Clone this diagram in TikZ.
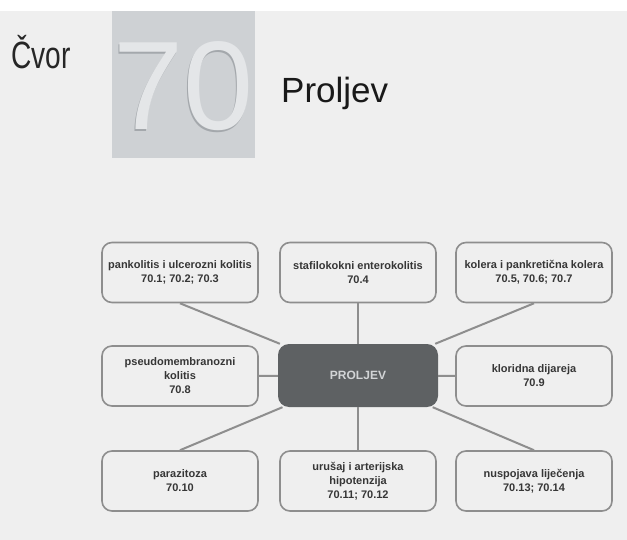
\documentclass[tikz,border=0pt]{standalone}
\usepackage{fontspec}
\setmainfont{Liberation Sans}
\usetikzlibrary{positioning}
\definecolor{bg}{HTML}{EFEFEF}
\definecolor{tilebg}{HTML}{CED1D4}
\definecolor{digit}{HTML}{E4E6E8}
\definecolor{digitsh}{HTML}{A4A8AC}
\definecolor{edge}{HTML}{8E8E8E}
\definecolor{txt}{HTML}{363636}
\definecolor{hub}{HTML}{5E6163}
\definecolor{hubtxt}{HTML}{D2D4D6}
\tikzset{
  leaf/.style={draw=edge, line width=1.6pt, fill=bg, rounded corners=10pt,
    minimum width=156pt, minimum height=60pt, inner sep=0pt, align=center,
    text=txt, font=\fontsize{11}{14}\selectfont\bfseries},
  hubbox/.style={fill=hub, rounded corners=11pt, minimum width=160pt,
    minimum height=63pt, inner sep=0pt, text=hubtxt,
    font=\fontsize{12}{14}\selectfont\bfseries},
  link/.style={draw=edge, line width=2pt}
}
\begin{document}
\begin{tikzpicture}[x=1pt,y=-1pt]
\useasboundingbox (0,0) rectangle (627,540);
\fill[white] (0,0) rectangle (627,540);
\fill[bg] (0,11) rectangle (627,540);
% header
\node[anchor=base west, inner sep=0pt, text=black!85, font=\fontsize{38}{40}\selectfont] (cvor) at (11,69) {\scalebox{0.74}[1]{Čvor}};
\fill[tilebg] (112,11) rectangle (255,158);
\node[anchor=base, inner sep=0pt, text=digitsh, font=\fontsize{126}{130}\selectfont] (numsh) at (182.5,131.5) {70};
\node[anchor=base, inner sep=0pt, text=digit, font=\fontsize{126}{130}\selectfont] (num) at (184,130) {70};
\node[anchor=base west, inner sep=0pt, text=black!90, font=\fontsize{35}{38}\selectfont] (title) at (281,103) {Proljev};
% diagram
\node[hubbox] (c) at (358,375.5) {PROLJEV};
\node[leaf] (b1) at (180,272.5) {pankolitis i ulcerozni kolitis\\70.1; 70.2; 70.3};
\node[leaf] (b2) at (358,272.5) {stafilokokni enterokolitis\\70.4};
\node[leaf] (b3) at (534,272.5) {kolera i pankretična kolera\\70.5, 70.6; 70.7};
\node[leaf] (b4) at (180,376) {pseudomembranozni\\kolitis\\70.8};
\node[leaf] (b5) at (534,376) {kloridna dijareja\\70.9};
\node[leaf] (b6) at (180,481) {parazitoza\\70.10};
\node[leaf] (b7) at (358,481) {urušaj i arterijska\\hipotenzija\\70.11; 70.12};
\node[leaf] (b8) at (534,481) {nuspojava liječenja\\70.13; 70.14};
\draw[link] (b1.south) -- (c);
\draw[link] (b2.south) -- (c);
\draw[link] (b3.south) -- (c);
\draw[link] (b4.east) -- (c);
\draw[link] (b5.west) -- (c);
\draw[link] (b6.north) -- (c);
\draw[link] (b7.north) -- (c);
\draw[link] (b8.north) -- (c);
\end{tikzpicture}
\end{document}
